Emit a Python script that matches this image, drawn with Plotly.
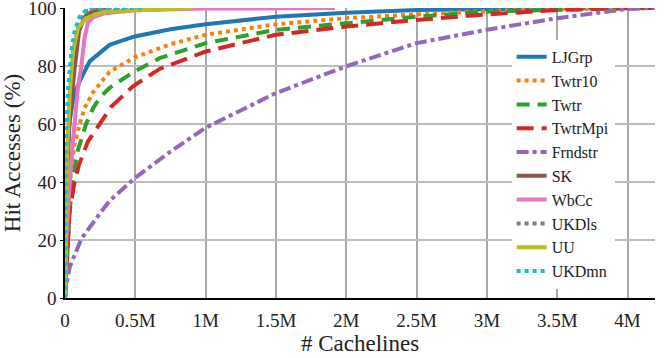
import plotly.graph_objects as go

# x values in millions of cachelines, y values in % hit accesses
ljgrp_x = [0, 0.005, 0.01, 0.02, 0.033, 0.056, 0.08, 0.104, 0.175, 0.317, 0.495, 0.75, 1.0, 1.5, 2.0, 2.5, 3.0, 3.5, 4.19]
ljgrp_y = [0, 22, 35, 50, 61, 68, 72, 74.7, 81.6, 87.3, 90.2, 92.7, 94.4, 97.0, 98.4, 99.3, 99.7, 99.9, 100]

twtr10_x = [0, 0.01, 0.025, 0.045, 0.068, 0.085, 0.104, 0.139, 0.2, 0.317, 0.495, 0.75, 1.0, 1.5, 2.0, 2.5, 3.0, 3.5, 4.0, 4.19]
twtr10_y = [0, 18, 33, 45, 53, 56, 60, 65.5, 71, 78, 83, 87.5, 90.8, 94.4, 96.5, 97.8, 99.0, 99.6, 100, 100]

twtr_x = [0, 0.015, 0.033, 0.05, 0.068, 0.092, 0.15, 0.2, 0.246, 0.317, 0.495, 0.673, 1.0, 1.5, 2.0, 2.5, 3.0, 3.5, 4.0, 4.19]
twtr_y = [0, 15, 30, 38, 45, 51, 60, 65.5, 69, 72.5, 78.2, 82.7, 87.9, 92.5, 94.8, 97.0, 98.8, 99.5, 100, 100]

twtrmpi_x = [0, 0.015, 0.033, 0.068, 0.1, 0.163, 0.27, 0.33, 0.483, 0.673, 1.0, 1.5, 2.0, 2.5, 3.0, 3.5, 4.0, 4.19]
twtrmpi_y = [0, 15, 30, 40, 46, 54, 62, 66, 73, 79, 85, 90.8, 93.6, 95.9, 97.8, 99.3, 100, 100]

frndstr_x = [0, 0.005, 0.033, 0.116, 0.246, 0.317, 0.5, 0.75, 1.0, 1.5, 2.0, 2.5, 3.0, 3.5, 4.0, 4.19]
frndstr_y = [0, 3, 10.6, 20.4, 29, 33.5, 41.5, 50.5, 58.7, 70.7, 79.9, 87.9, 92.5, 96.5, 99.7, 100]

sk_x = [0, 0.01, 0.03, 0.05, 0.068, 0.1, 0.14, 0.2, 0.3]
sk_y = [0, 35, 60, 72, 79, 92, 97, 99, 100]

wbcc_x = [0, 0.009, 0.033, 0.056, 0.092, 0.116, 0.139, 0.163, 0.2, 0.28, 0.5, 1.0, 1.92]
wbcc_y = [0, 19.8, 39.3, 54, 72.4, 80, 89.6, 95, 96.8, 98.2, 99.2, 99.8, 100]

ukdls_x = [0, 0.005, 0.015, 0.033, 0.068, 0.1, 0.14, 0.2, 0.5]
ukdls_y = [0, 30, 55, 75, 88, 95, 98.5, 100, 100]

uu_x = [0, 0.005, 0.015, 0.033, 0.056, 0.092, 0.151, 0.28, 0.637, 0.91]
uu_y = [0, 25, 50, 70, 85, 93, 96.5, 98.8, 99.5, 100]

ukdmn_x = [0, 0.003, 0.008, 0.021, 0.045, 0.068, 0.104, 0.163, 0.55]
ukdmn_y = [0, 30, 55, 72, 85, 92, 97, 99.9, 100]

x_tick_vals = [0, 0.5, 1, 1.5, 2, 2.5, 3, 3.5, 4]
x_tick_text = ["0", "0.5M", "1M", "1.5M", "2M", "2.5M", "3M", "3.5M", "4M"]
y_tick_vals = [0, 20, 40, 60, 80, 100]

series = [
    ("LJGrp", ljgrp_x, ljgrp_y, "#1f77b4", "solid"),
    ("Twtr10", twtr10_x, twtr10_y, "#ff7f0e", "4px,4px"),
    ("Twtr", twtr_x, twtr_y, "#2ca02c", "13px,8px"),
    ("TwtrMpi", twtrmpi_x, twtrmpi_y, "#d62728", "17px,8px"),
    ("Frndstr", frndstr_x, frndstr_y, "#9467bd", "12px,4px,4px,4px"),
    ("SK", sk_x, sk_y, "#8c564b", "solid"),
    ("WbCc", wbcc_x, wbcc_y, "#e377c2", "solid"),
    ("UKDls", ukdls_x, ukdls_y, "#7f7f7f", "4px,4px"),
    ("UU", uu_x, uu_y, "#bcbd22", "solid"),
    ("UKDmn", ukdmn_x, ukdmn_y, "#17becf", "4px,4px"),
]

FONT = "Liberation Serif"
fig = go.Figure()
for name, xs, ys, color, dash in series:
    fig.add_trace(go.Scatter(
        x=xs, y=ys, name=name, mode="lines",
        line=dict(color=color, width=4, dash=dash),
        cliponaxis=False,
    ))

fig.update_layout(
    width=672, height=358,
    margin=dict(l=65, r=17, t=8, b=60),
    paper_bgcolor="white", plot_bgcolor="white",
    font=dict(family=FONT, size=19, color="#222"),
    showlegend=True,
    legend=dict(
        x=0.757, y=0.89, xanchor="left", yanchor="top",
        bgcolor="white", borderwidth=0,
        font=dict(family=FONT, size=16, color="#222"),
        itemwidth=30, tracegroupgap=0,
    ),
)
fig.update_xaxes(
    range=[0, 4.195], tickvals=x_tick_vals, ticktext=x_tick_text,
    showgrid=True, gridcolor="#a8a8a8", gridwidth=1.5,
    showline=True, linecolor="black", linewidth=1.5,
    zeroline=False, ticks="", tickfont=dict(size=19),
    ticklabelstandoff=4,
    automargin="bottom",
    title=dict(text="# Cachelines", font=dict(size=23), standoff=0),
)
fig.update_yaxes(
    range=[0, 100.01], tickvals=y_tick_vals,
    showgrid=True, gridcolor="#bdbdbd", gridwidth=1.5,
    showline=True, linecolor="black", linewidth=1.5,
    zeroline=False, ticks="outside", ticklen=3, tickcolor="black",
    tickfont=dict(size=19), ticklabeloverflow="allow",
    automargin="left",
    title=dict(text="Hit Accesses (%)", font=dict(size=23), standoff=4),
)

fig.write_html("out.html", config={"displayModeBar": False},
               post_script="document.body.style.margin='0px';")
